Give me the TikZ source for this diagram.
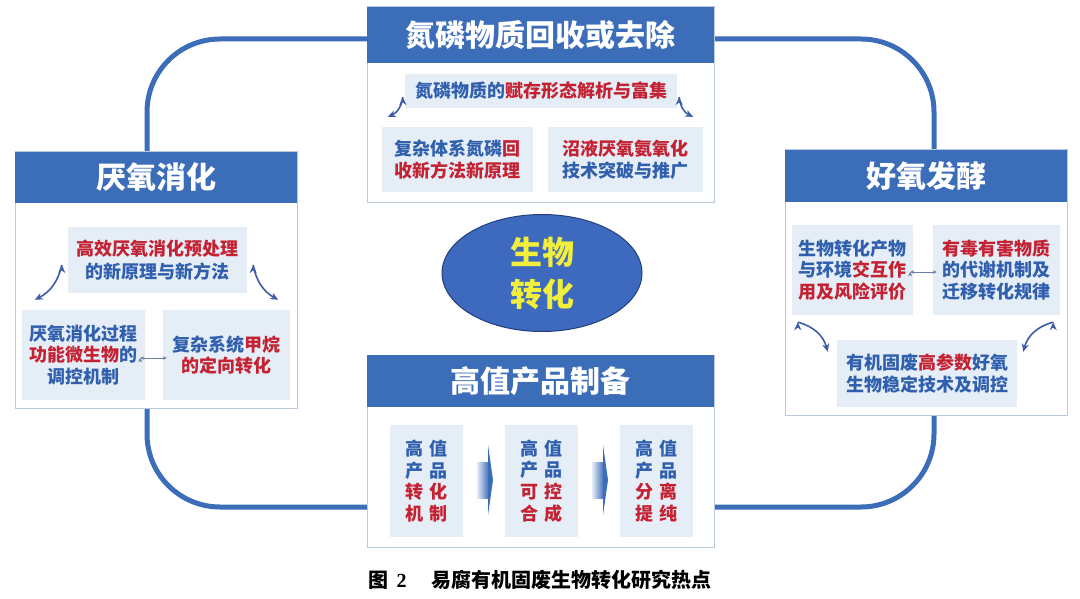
\documentclass[tikz,border=0pt]{standalone}
\usepackage{fontspec}
\setmainfont{Noto Sans CJK SC}
\newfontfamily\capnum{Liberation Serif}
\usepackage{xcolor}
\usetikzlibrary{shapes.geometric, arrows.meta}
\definecolor{hdblue}{HTML}{3C6DB9}
\definecolor{txtblue}{HTML}{2F5FAD}
\definecolor{txtred}{HTML}{C42232}
\definecolor{subfill}{HTML}{E5EDF7}
\definecolor{boxline}{HTML}{B9C8DC}
\definecolor{arrblue}{HTML}{3E5CAA}
\definecolor{linkgray}{HTML}{6C7FA5}
\definecolor{ellblue}{HTML}{3D69BF}
\definecolor{ellline}{HTML}{223F7C}
\definecolor{ellyellow}{HTML}{F1EE3C}
\newcommand{\hot}[1]{\textcolor{txtred}{#1}}
\tikzstyle{loopline} = [draw=hdblue, line width=5pt, rounded corners=73pt]
\tikzstyle{panel} = [rectangle, draw=boxline, line width=1pt, fill=white, inner sep=0pt]
\tikzstyle{header} = [rectangle, fill=hdblue, text=white, inner sep=0pt, font=\bfseries\fontsize{30pt}{32pt}\selectfont]
\tikzstyle{subbox} = [rectangle, fill=subfill, text=txtblue, align=center, inner sep=0pt, font=\bfseries\fontsize{18pt}{21.5pt}\selectfont]
\tikzstyle{tallbox} = [subbox, minimum width=73pt, minimum height=112pt, font=\bfseries\fontsize{18pt}{21.7pt}\selectfont]
\tikzstyle{bendarrow} = [-{Stealth[length=8pt,width=7pt]}, draw=arrblue, line width=1.6pt]
\tikzstyle{link} = [{Stealth[length=4pt,width=3.5pt]}-{Stealth[length=4pt,width=3.5pt]}, draw=linkgray, line width=0.8pt]

\begin{document}
\begin{tikzpicture}[x=1pt, y=-1pt]
  \useasboundingbox (0,0) rectangle (1080,599);
  \draw[loopline] (147,39) rectangle (934,507);

  % top panel
  \node[panel, minimum width=347pt, minimum height=196pt] (recyc) at (540.5,105) {};
  \node[header, minimum width=347pt, minimum height=56pt, anchor=north] (recycT) at (recyc.north) {氮磷物质回收或去除};
  \node[subbox, minimum width=272pt, minimum height=34pt] (recycA) at (541,91) {氮磷物质的\hot{赋存形态解析与富集}};
  \node[subbox, minimum width=151pt, minimum height=65pt] (recycB) at (457.5,159.5) {复杂体系氮磷\hot{回}\\\hot{收新方法新原理}};
  \node[subbox, minimum width=155pt, minimum height=65pt] (recycC) at (625.5,159.5) {\hot{沼液厌氧氨氧化}\\技术突破与推广};

  % left panel
  \node[panel, minimum width=282pt, minimum height=256pt] (anaer) at (156,280) {};
  \node[header, minimum width=282pt, minimum height=51pt, anchor=north] (anaerT) at (anaer.north) {厌氧消化};
  \node[subbox, minimum width=179pt, minimum height=66pt, font=\bfseries\fontsize{18pt}{23pt}\selectfont] (anaerA) at (157.5,260) {\hot{高效厌氧消化预处理}\\的新原理与新方法};
  \node[subbox, minimum width=123pt, minimum height=90pt] (anaerB) at (83.5,355) {厌氧消化过程\\\hot{功能微生物}的\\调控机制};
  \node[subbox, minimum width=127pt, minimum height=90pt] (anaerC) at (226.5,355) {复杂系统\hot{甲烷}\\\hot{的定向转化}};

  % right panel
  \node[panel, minimum width=282pt, minimum height=265pt] (aerob) at (926,282.5) {};
  \node[header, minimum width=282pt, minimum height=52pt, anchor=north] (aerobT) at (aerob.north) {好氧发酵};
  \node[subbox, minimum width=121pt, minimum height=90pt] (aerobA) at (852.5,270) {生物转化产物\\与环境\hot{交互作}\\\hot{用及风险评价}};
  \node[subbox, minimum width=127pt, minimum height=90pt] (aerobB) at (996.5,270) {\hot{有毒有害物质}\\的代谢机制及\\迁移转化规律};
  \node[subbox, minimum width=180pt, minimum height=67pt] (aerobC) at (927,373.5) {有机固废\hot{高参数}好氧\\生物稳定技术及调控};

  % bottom panel
  \node[panel, minimum width=347pt, minimum height=192pt] (prod) at (540.5,451) {};
  \node[header, minimum width=347pt, minimum height=52pt, anchor=north] (prodT) at (prod.north) {高值产品制备};
  \node[tallbox] (prodA) at (426.5,481) {高\hspace{7pt}值\\产\hspace{7pt}品\\\hot{转\hspace{7pt}化}\\\hot{机\hspace{7pt}制}};
  \node[tallbox] (prodB) at (541.5,481) {高\hspace{7pt}值\\产\hspace{7pt}品\\\hot{可\hspace{7pt}控}\\\hot{合\hspace{7pt}成}};
  \node[tallbox] (prodC) at (656.5,481) {高\hspace{7pt}值\\产\hspace{7pt}品\\\hot{分\hspace{7pt}离}\\\hot{提\hspace{7pt}纯}};
  \foreach \dx in {0,115} {
    \shade[left color=subfill, right color=hdblue] (477+\dx,462) rectangle (489+\dx,498);
    \fill[hdblue] (488+\dx,445) -- (493+\dx,480) -- (488+\dx,515) -- cycle;
  }

  % centre
  \node[ellipse, fill=ellblue, draw=ellline, line width=1pt, minimum width=200pt, minimum height=117pt, text=ellyellow, align=center, font=\bfseries\fontsize{32pt}{42pt}\selectfont] (core) at (542,273) {生物\\转化};

  \path[bendarrow] ([shift={(-2,6)}]recycA.west) edge[bend left=30] ([shift={(6,-10)}]recycB.north west);
  \path[bendarrow] ([shift={(2,6)}]recycA.east) edge[bend right=30] ([shift={(-10,-10)}]recycC.north east);
  \path[bendarrow] ([shift={(-6,5)}]anaerA.west) edge[bend left=25] ([shift={(13,-10)}]anaerB.north west);
  \path[bendarrow] ([shift={(6,5)}]anaerA.east) edge[bend right=25] ([shift={(-12,-10)}]anaerC.north east);
  \path[bendarrow] ([shift={(6,7)}]aerobA.south west) edge[bend left=30] ([shift={(-9,12)}]aerobC.north west);
  \path[bendarrow] ([shift={(-7,7)}]aerobB.south east) edge[bend right=30] ([shift={(6,12)}]aerobC.north east);
  \path[link] ([shift={(-5,3)}]anaerB.east) edge ([shift={(4,3)}]anaerC.west);
  \path[link] ([shift={(-3,2)}]aerobA.east) edge ([shift={(4,2)}]aerobB.west);

  \node[font=\bfseries\fontsize{20pt}{22pt}\selectfont] (caption) at (540,580) {图\hspace{8pt}{\capnum 2}\hspace{25pt}易腐有机固废生物转化研究热点};
\end{tikzpicture}
\end{document}
